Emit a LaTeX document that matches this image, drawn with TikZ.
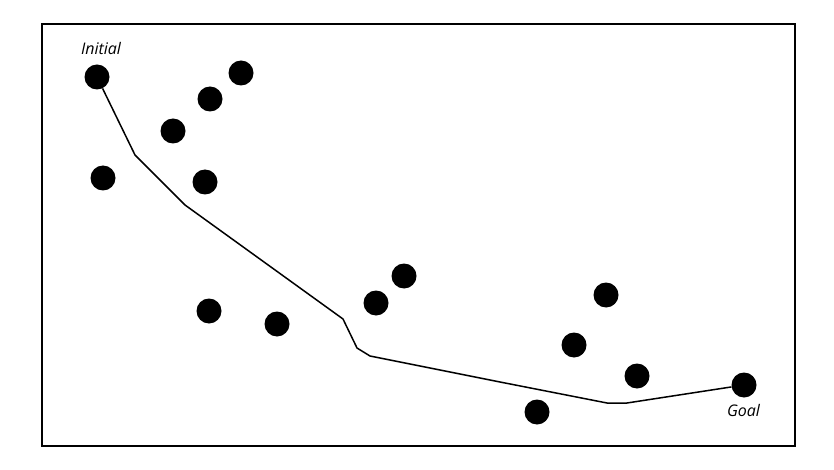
\documentclass[tikz,border=0pt]{standalone}
\usepackage{fontspec}
\setmainfont{Open Sans}
\begin{document}
\begin{tikzpicture}[x=1pt,y=-1pt,
  obstacle/.style={circle,fill=black,inner sep=0pt,minimum size=25pt},
  lbl/.style={font=\itshape\fontsize{16}{18}\selectfont,inner sep=0pt,anchor=base},
  pathline/.style={line width=1.5pt,line join=round}]
\useasboundingbox (0,0) rectangle (834,470);
\draw[line width=2.2pt] (42,24) rectangle (795,446);
\node[obstacle] (init) at (97,77) {};
\node[obstacle] (o2) at (241,73) {};
\node[obstacle] (o3) at (210,99) {};
\node[obstacle] (o4) at (173,131) {};
\node[obstacle] (o5) at (103,178) {};
\node[obstacle] (o6) at (205,182) {};
\node[obstacle] (o7) at (209,311) {};
\node[obstacle] (o8) at (277,324) {};
\node[obstacle] (o9) at (376,303) {};
\node[obstacle] (o10) at (404,276) {};
\node[obstacle] (o11) at (606,295) {};
\node[obstacle] (o12) at (574,345) {};
\node[obstacle] (o13) at (637,376) {};
\node[obstacle] (o14) at (537,412) {};
\node[obstacle] (goal) at (744,385) {};
\node[lbl] (tinit) at (101,55) {Initial};
\node[lbl] (tgoal) at (743.5,416) {Goal};
\coordinate (p1) at (135,155);
\coordinate (p2) at (185,205);
\coordinate (p3) at (343,319);
\coordinate (p4) at (357,348);
\coordinate (p5) at (370,356);
\coordinate (p6) at (500,382);
\coordinate (p7) at (607,403);
\coordinate (p8) at (627,403);
\draw[pathline] (init) -- (p1) -- (p2) -- (p3) -- (p4) -- (p5) -- (p6) -- (p7) -- (p8) -- (goal);
\end{tikzpicture}
\end{document}
